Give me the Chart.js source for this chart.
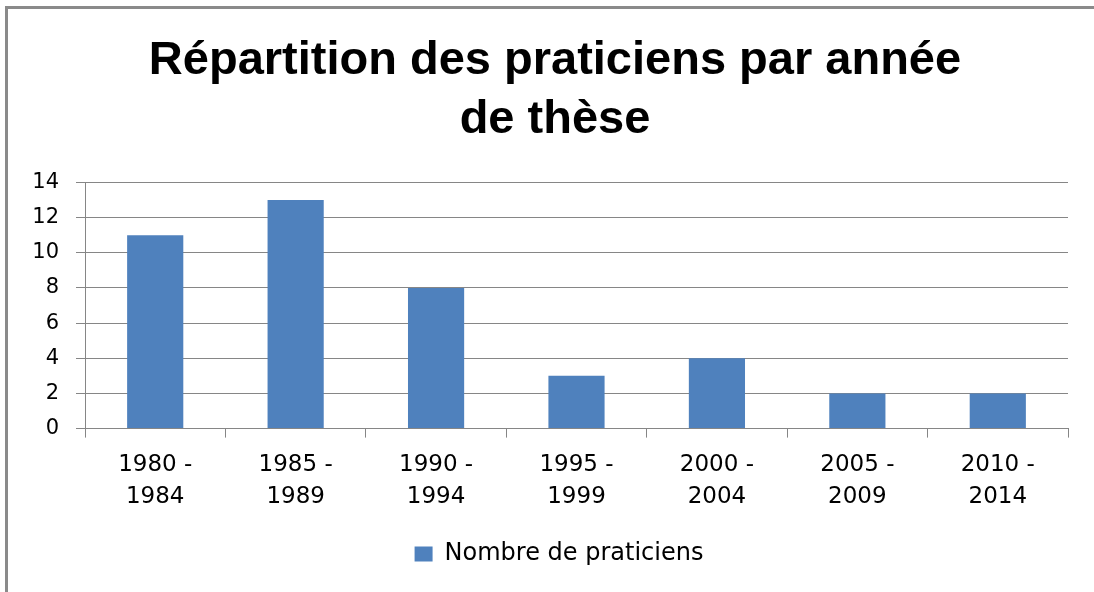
<!DOCTYPE html>
<html>
<head>
<meta charset="utf-8">
<script src="https://cdn.jsdelivr.net/npm/chart.js@4/dist/chart.umd.min.js"></script>
<style>
html,body{margin:0;padding:0;background:#fff;}
#wrap{width:1094px;height:592px;position:relative;}
</style>
</head>
<body>
<div id="wrap"><canvas id="c" width="1094" height="592"></canvas></div>
<script>
const categories = [["1980 -","1984"],["1985 -","1989"],["1990 -","1994"],["1995 -","1999"],["2000 -","2004"],["2005 -","2009"],["2010 -","2014"]];
const values = [11, 13, 8, 3, 4, 2, 2];
const seriesName = "Nombre de praticiens";
const titleLines = ["Répartition des praticiens par année", "de thèse"];
const yTicks = [0, 2, 4, 6, 8, 10, 12, 14];

const GRID = '#868686';
const borderPlugin = {
  id: 'frame',
  beforeDraw(chart) {
    const ctx = chart.ctx;
    ctx.save();
    ctx.fillStyle = '#ffffff';
    ctx.fillRect(0, 0, chart.width, chart.height);
    ctx.strokeStyle = '#8a8a8a';
    ctx.lineWidth = 3;
    ctx.beginPath();
    ctx.moveTo(6.5, chart.height);
    ctx.lineTo(6.5, 7.5);
    ctx.lineTo(chart.width, 7.5);
    ctx.stroke();
    ctx.restore();
  }
};

const chart = new Chart(document.getElementById('c'), {
  type: 'bar',
  data: {
    labels: categories,
    datasets: [{
      label: seriesName,
      data: values,
      backgroundColor: '#4F81BD',
      borderWidth: 0,
      barPercentage: 0.4,
      categoryPercentage: 1.0
    }]
  },
  options: {
    responsive: false,
    animation: false,
    layout: { padding: { left: 0, right: 26, top: 20, bottom: 16 } },
    plugins: {
      title: {
        display: true,
        text: titleLines,
        color: '#000',
        font: { family: 'Liberation Sans', size: 47, weight: 'bold', lineHeight: 1.26 },
        padding: { top: 11, bottom: 33 }
      },
      legend: {
        display: true,
        position: 'bottom',
        labels: {
          color: '#000',
          font: { family: 'DejaVu Sans', size: 24 },
          boxWidth: 18,
          boxHeight: 15,
          padding: 18
        }
      },
      tooltip: { enabled: false }
    },
    scales: {
      x: {
        grid: { display: true, drawOnChartArea: false, drawTicks: true, tickLength: 9, color: GRID, offset: true },
        border: { display: true, color: GRID, width: 1 },
        ticks: { color: '#000', font: { family: 'DejaVu Sans', size: 23, lineHeight: 1.4 }, padding: 11, maxRotation: 0, autoSkip: false }
      },
      y: {
        min: 0, max: 14,
        afterBuildTicks(scale) { scale.ticks = yTicks.map(v => ({ value: v })); },
        afterFit(scale) { scale.width = 85; },
        grid: { color: GRID, lineWidth: 1, tickLength: 9 },
        border: { display: true, color: GRID, width: 1 },
        ticks: { color: '#000', font: { family: 'DejaVu Sans', size: 21 }, padding: 17 }
      }
    }
  },
  plugins: [borderPlugin]
});

// shift title and legend horizontally to match the reference's centring
function shiftBox(box, dx) {
  if (!box) return;
  const orig = box.draw.bind(box);
  box.draw = function (area) {
    const ctx = chart.ctx;
    ctx.save();
    ctx.translate(dx, 0);
    orig(area);
    ctx.restore();
  };
}
shiftBox(chart.titleBlock, 21);
shiftBox(chart.legend, 25);
chart.draw();
</script>
</body>
</html>
